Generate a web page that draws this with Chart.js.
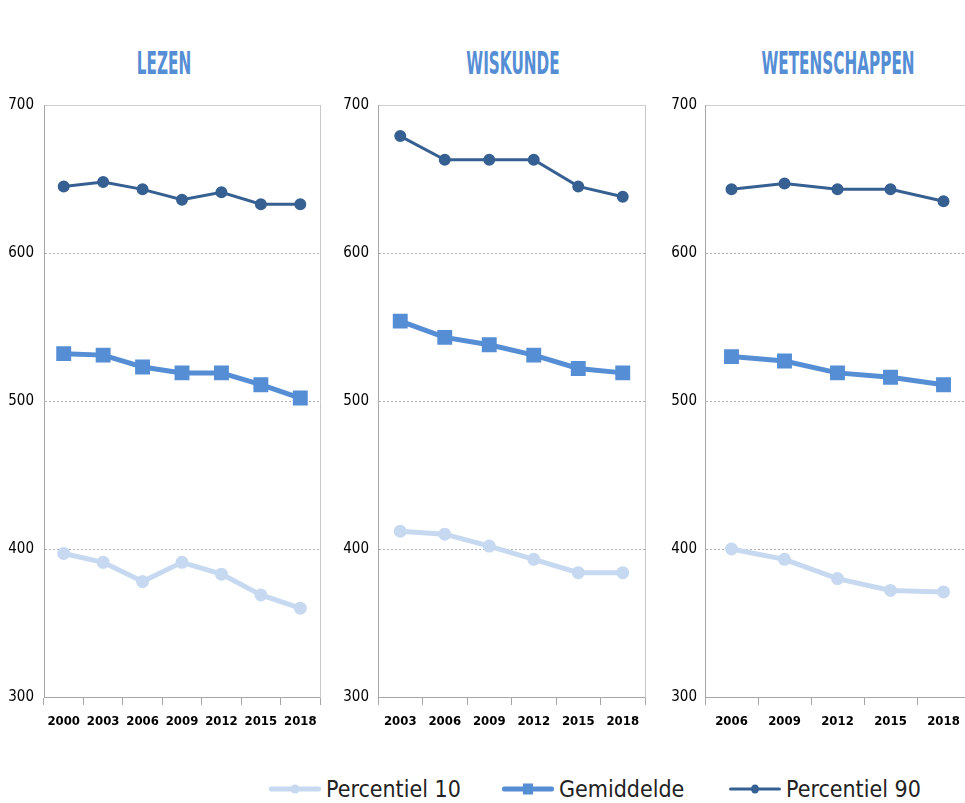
<!DOCTYPE html>
<html>
<head>
<meta charset="utf-8">
<script src="https://cdn.jsdelivr.net/npm/chart.js@4"></script>
<style>
  html, body { margin: 0; padding: 0; background: #fff; width: 965px; height: 803px; overflow: hidden; }
  body { position: relative; font-family: 'DejaVu Sans Condensed', 'Liberation Sans Narrow', sans-serif; }
  .panel { position: absolute; top: 95px; height: 660px; }
  .title { position: absolute; top: 44px; font-weight: bold; font-size: 32px; color: #558ed5;
           font-family: 'DejaVu Sans Condensed', sans-serif; transform: translateX(-50%) scaleX(0.53); white-space: nowrap; }
  .item { position: absolute; top: 776px; display: flex; align-items: center; font-size: 23px; color: #222;
          font-family: 'Liberation Sans Narrow', 'DejaVu Sans Condensed', sans-serif; white-space: nowrap; }
  .sample { position: relative; width: 52px; height: 14px; margin-right: 5px; }
  .sample .ln { position: absolute; left: 0; right: 0; top: 50%; transform: translateY(-50%); border-radius: 2px; }
  .sample .mk { position: absolute; left: 50%; top: 50%; transform: translate(-50%, -50%); }
</style>
</head>
<body>
<div class="title" style="left:164px">LEZEN</div>
<div class="title" style="left:513px">WISKUNDE</div>
<div class="title" style="left:838px">WETENSCHAPPEN</div>

<div class="panel" style="left:0px;width:322px"><canvas id="c1"></canvas></div>
<div class="panel" style="left:330px;width:317px"><canvas id="c2"></canvas></div>
<div class="panel" style="left:655px;width:317px"><canvas id="c3"></canvas></div>

<div class="item" style="left:269px"><div class="sample"><div class="ln" style="height:5px;background:#c6d9f0"></div><div class="mk" style="width:9px;height:9px;border-radius:50%;background:#c6d9f0"></div></div>Percentiel 10</div>
<div class="item" style="left:502px"><div class="sample"><div class="ln" style="height:5px;background:#558ed5"></div><div class="mk" style="width:10px;height:11px;background:#558ed5"></div></div>Gemiddelde</div>
<div class="item" style="left:729px"><div class="sample"><div class="ln" style="height:3px;background:#376092"></div><div class="mk" style="width:8px;height:9px;border-radius:50%;background:#376092"></div></div>Percentiel 90</div>

<script>
// LEZEN
const lezenYears = ['2000', '2003', '2006', '2009', '2012', '2015', '2018'];
const lezenP10 = [397, 391, 378, 391, 383, 369, 360];
const lezenMean = [532, 531, 523, 519, 519, 511, 502];
const lezenP90 = [645, 648, 643, 636, 641, 633, 633];

// WISKUNDE
const wiskYears = ['2003', '2006', '2009', '2012', '2015', '2018'];
const wiskP10 = [412, 410, 402, 393, 384, 384];
const wiskMean = [554, 543, 538, 531, 522, 519];
const wiskP90 = [679, 663, 663, 663, 645, 638];

// WETENSCHAPPEN
const wetYears = ['2006', '2009', '2012', '2015', '2018'];
const wetP10 = [400, 393, 380, 372, 371];
const wetMean = [530, 527, 519, 516, 511];
const wetP90 = [643, 647, 643, 643, 635];

const yTicks = [300, 400, 500, 600, 700];

const fontFam = "'DejaVu Sans Condensed', 'Liberation Sans Narrow', sans-serif";

function makeChart(id, labels, p10, mean, p90, yWidth, yPad) {
    const ctx = document.getElementById(id).getContext('2d');
    return new Chart(ctx, {
        type: 'line',
        data: {
            labels: labels,
            datasets: [
                {
                    label: 'Percentiel 10',
                    data: p10,
                    borderColor: '#c6d9f0',
                    backgroundColor: '#c6d9f0',
                    borderWidth: 5,
                    pointStyle: 'circle',
                    pointRadius: 4,
                    tension: 0
                },
                {
                    label: 'Gemiddelde',
                    data: mean,
                    borderColor: '#558ed5',
                    backgroundColor: '#558ed5',
                    borderWidth: 5,
                    pointStyle: 'rect',
                    pointRadius: 7,
                    tension: 0
                },
                {
                    label: 'Percentiel 90',
                    data: p90,
                    borderColor: '#376092',
                    backgroundColor: '#376092',
                    borderWidth: 3,
                    pointStyle: 'circle',
                    pointRadius: 4.5,
                    tension: 0
                }
            ]
        },
        options: {
            responsive: true,
            maintainAspectRatio: false,
            animation: false,
            layout: { autoPadding: false, padding: { top: 10, right: 2, left: 0, bottom: 0 } },
            plugins: {
                legend: { display: false },
                tooltip: { enabled: false }
            },
            scales: {
                x: {
                    offset: true,
                    grid: {
                        offset: true,
                        drawOnChartArea: false,
                        drawTicks: true,
                        tickLength: 8,
                        tickColor: '#a6a6a6'
                    },
                    border: { color: '#a6a6a6', width: 1 },
                    ticks: {
                        color: '#000',
                        padding: 9,
                        maxRotation: 0,
                        autoSkip: false,
                        font: { family: fontFam, size: 13, weight: 'bold' }
                    },
                    afterFit: s => { s.height = 58; s.paddingLeft = 0; s.paddingRight = 0; }
                },
                y: {
                    min: 300,
                    max: 700,
                    afterBuildTicks: s => { s.ticks = yTicks.map(v => ({ value: v })); },
                    grid: {
                        drawTicks: false,
                        color: c => (c.tick && (c.tick.value === 300) ? 'rgba(0,0,0,0)' : (c.tick && c.tick.value === 700 ? '#d0d0d0' : '#b0b0b0'))
                    },
                    border: {
                        color: '#a6a6a6',
                        width: 1,
                        dash: c => (c.tick && c.tick.value === 700 ? [] : [2, 2])
                    },
                    ticks: {
                        color: '#000',
                        padding: yPad,
                        font: { family: fontFam, size: 15 }
                    },
                    afterFit: s => { s.width = yWidth; s.paddingTop = 0; s.paddingBottom = 0; }
                },
                y2: {
                    position: 'right',
                    min: 300,
                    max: 700,
                    grid: { display: false, drawTicks: false },
                    ticks: { display: false },
                    border: { color: '#c8c8c8', width: 1 },
                    afterFit: s => { s.width = 0; s.paddingTop = 0; s.paddingBottom = 0; }
                }
            }
        }
    });
}

makeChart('c1', lezenYears, lezenP10, lezenMean, lezenP90, 44, 10);
makeChart('c2', wiskYears, wiskP10, wiskMean, wiskP90, 48, 9);
makeChart('c3', wetYears, wetP10, wetMean, wetP90, 50, 8);
</script>
</body>
</html>
